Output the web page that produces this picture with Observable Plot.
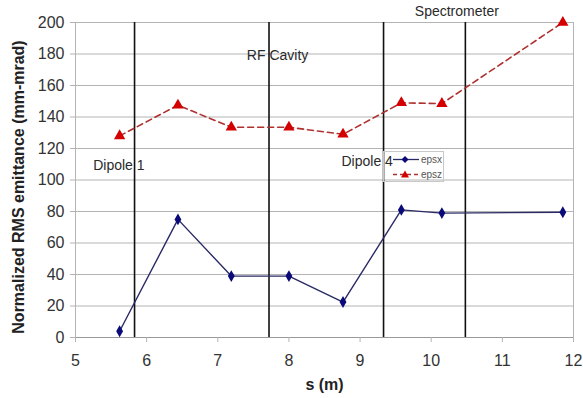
<!DOCTYPE html>
<html>
<head>
<meta charset="utf-8">
<script src="https://cdn.jsdelivr.net/npm/d3@7"></script>
<script src="https://cdn.jsdelivr.net/npm/@observablehq/plot@0.6"></script>
<style>
  html, body { margin: 0; padding: 0; background: #fff; }
  #wrap { position: relative; width: 583px; height: 398px; font-family: "Liberation Sans", Arial, sans-serif; }
  #legend { position: absolute; left: 383px; top: 151px; width: 59px; height: 29px; background: transparent; border: 1px solid #c8c8c8; font-size: 10px; color: #555; }
  #legend div { position: absolute; left: 0; height: 14px; display: flex; align-items: center; }
</style>
</head>
<body>
<div id="wrap"></div>
<script>
// Data
const sPositions = [5.62, 6.44, 7.19, 8.0, 8.76, 9.58, 10.15, 11.85];
const epsx = [4, 75, 39, 39, 22.5, 81, 79, 79.5];
const epsz = [128, 147.5, 133.5, 133.5, 129, 149, 148.5, 200];
const dividers = [5.83, 7.72, 9.33, 10.48];
const labelTexts = ["Dipole 1", "RF Cavity", "Dipole 4", "Spectrometer"];
const labelS = [5.61, 7.84, 9.1, 10.36];
const labelY = [109, 179, 112, 207];
const xTicks = [5, 6, 7, 8, 9, 10, 11, 12];
const yTicks = [0, 20, 40, 60, 80, 100, 120, 140, 160, 180, 200];
const seriesNames = ["epsx", "epsz"];

const dataX = sPositions.map((s, i) => ({s, v: epsx[i]}));
const dataZ = sPositions.map((s, i) => ({s, v: epsz[i]}));
const labels = labelTexts.map((t, i) => ({t, s: labelS[i], y: labelY[i]}));

const navy = "#0a0a78";
const red = "#d40000";
const grid = "#b4b4b4";

const chart = Plot.plot({
  width: 583,
  height: 398,
  marginLeft: 75,
  marginRight: 10,
  marginTop: 22,
  marginBottom: 61,
  style: {fontFamily: "'Liberation Sans', Arial, sans-serif", background: "transparent", overflow: "visible"},
  x: {domain: [5, 12]},
  y: {domain: [0, 200]},
  marks: [
    Plot.gridY(yTicks, {stroke: grid, strokeOpacity: 1, strokeWidth: 1}),
    Plot.ruleX([12], {stroke: grid, strokeWidth: 1}),
    Plot.ruleX([5], {stroke: grid, strokeWidth: 1}),
    Plot.ruleY([0], {stroke: "#999", strokeWidth: 1}),
    Plot.axisX(xTicks, {tickSize: 5, tickPadding: 12, fontSize: 16, stroke: grid, color: "#333", label: null}),
    Plot.axisY(yTicks, {tickSize: 5, tickPadding: 6, fontSize: 16, stroke: grid, color: "#333", label: null}),
    Plot.ruleX(dividers, {y1: 0, y2: 200, stroke: "#111", strokeWidth: 1.6}),
    Plot.line(dataZ, {x: "s", y: "v", stroke: "#b03030", strokeWidth: 1.6, strokeDasharray: "6,4"}),
    Plot.dot(dataZ, {x: "s", y: "v", symbol: "triangle", r: 4.2, fill: red, stroke: "none"}),
    Plot.line(dataX, {x: "s", y: "v", stroke: "#2a2a66", strokeWidth: 1.4}),
    Plot.dot(dataX, {x: "s", y: "v", symbol: "diamond", r: 3.6, fill: navy, stroke: "none"}),
    Plot.text(labels, {x: "s", y: "y", text: "t", fontSize: 14, fill: "#2a2a2a"}),
    Plot.text(["Normalized RMS emittance (mm-mrad)"], {frameAnchor: "left", textAnchor: "middle", rotate: -90, dx: -57, dy: 7, fontSize: 16, fontWeight: "bold", fill: "#222"}),
    Plot.text(["s (m)"], {frameAnchor: "bottom", dy: 52, fontSize: 16, fontWeight: "bold", fill: "#222"})
  ]
});

const wrap = document.getElementById("wrap");
wrap.appendChild(chart);

const legend = document.createElement("div");
legend.id = "legend";
const items = [
  {name: seriesNames[0], color: "#2a2a66", mark: navy, dash: "", shape: "diamond"},
  {name: seriesNames[1], color: "#b03030", mark: red, dash: "4,3", shape: "triangle"}
];
items.forEach((it, i) => {
  const row = document.createElement("div");
  row.style.top = (i * 15) + "px";
  const sym = it.shape === "diamond"
    ? `<path d="M21,3 L24.5,6.5 L21,10 L17.5,6.5 Z" fill="${it.mark}"/>`
    : `<path d="M21,2.5 L25,9.5 L17,9.5 Z" fill="${it.mark}"/>`;
  row.innerHTML = `<svg width="37" height="13"><line x1="9" x2="35" y1="6.5" y2="6.5" stroke="${it.color}" stroke-width="1.3" ${it.dash ? `stroke-dasharray="${it.dash}"` : ""}/>${sym}</svg><span>${it.name}</span>`;
  legend.appendChild(row);
});
wrap.appendChild(legend);
</script>
</body>
</html>
